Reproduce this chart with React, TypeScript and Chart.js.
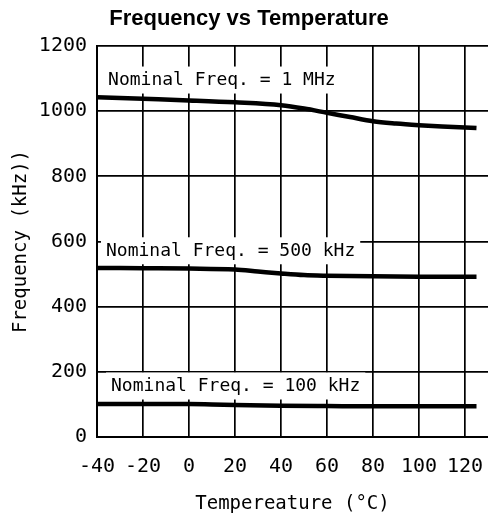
import React, { useEffect, useRef } from 'react';
import { Chart, registerables } from 'chart.js';

Chart.register(...registerables);

// Series: 1 MHz nominal
const temps1MHz = [-40, -20, 0, 20, 40, 50, 60, 70, 80, 90, 100, 110, 125];
const freq1MHz = [1043, 1038, 1033, 1027, 1018, 1008, 995, 982, 969, 962, 957, 953, 948];
// Series: 500 kHz nominal
const temps500k = [-40, -20, 0, 20, 30, 40, 50, 60, 80, 100, 125];
const freq500k = [519, 518, 517, 514, 508, 502, 497, 495, 493, 492, 492];
// Series: 100 kHz nominal
const temps100k = [-40, 0, 10, 20, 40, 60, 90, 125];
const freq100k = [101, 101, 100, 98, 96, 95, 94, 94];

const xTicks = [-40, -20, 0, 20, 40, 60, 80, 100, 120];
const yTicks = [0, 200, 400, 600, 800, 1000, 1200];

const chartTitle = 'Frequency vs Temperature';
const xTitle = 'Tempereature (°C)';
const yTitle = 'Frequency (kHz))';

const labelTexts = ['Nominal Freq. = 1 MHz', 'Nominal Freq. = 500 kHz', 'Nominal Freq. = 100 kHz'];
const labelTemps = [-35.2, -36.1, -33.9];
const labelFreqs = [1094, 570, 155];

const MONO = '"DejaVu Sans Mono", monospace';

const labelPlugin = {
  id: 'curveLabels',
  beforeDatasetsDraw(chart: any) {
    const { ctx, scales } = chart;
    const x = scales.x;
    const y = scales.y;
    ctx.save();
    ctx.font = '18px ' + MONO;
    ctx.textBaseline = 'middle';
    ctx.textAlign = 'left';
    labelTexts.forEach((t, i) => {
      const px = x.getPixelForValue(labelTemps[i]);
      const py = y.getPixelForValue(labelFreqs[i]);
      const w = ctx.measureText(t).width;
      ctx.fillStyle = '#fff';
      ctx.fillRect(px - 5, py - 14, w + 10, 27);
      ctx.fillStyle = '#000';
      ctx.fillText(t, px, py);
    });
    ctx.restore();
  },
  afterDraw(chart: any) {
    const { ctx } = chart;
    ctx.save();
    ctx.font = 'bold 22px "Liberation Sans", Arial, sans-serif';
    ctx.textBaseline = 'middle';
    ctx.textAlign = 'center';
    ctx.fillStyle = '#000';
    ctx.fillText(chartTitle, 249, 19);
    ctx.restore();
  },
};

const toPts = (xs: number[], ys: number[]) => xs.map((t, i) => ({ x: t, y: ys[i] }));

export default function App() {
  const ref = useRef<HTMLCanvasElement | null>(null);
  useEffect(() => {
    if (!ref.current) return;
    const lineStyle = {
      borderColor: '#000',
      backgroundColor: '#000',
      borderWidth: 4.5,
      pointRadius: 0,
      fill: false,
      cubicInterpolationMode: 'monotone' as const,
    };
    const chart = new Chart(ref.current, {
      type: 'line',
      data: {
        datasets: [
          { label: '1 MHz', data: toPts(temps1MHz, freq1MHz), ...lineStyle },
          { label: '500 kHz', data: toPts(temps500k, freq500k), ...lineStyle },
          { label: '100 kHz', data: toPts(temps100k, freq100k), ...lineStyle },
        ],
      },
      options: {
        animation: false,
        responsive: true,
        maintainAspectRatio: false,
        layout: { padding: { top: 46, left: 0, right: 0, bottom: 0 } },
        plugins: {
          legend: { display: false },
          tooltip: { enabled: false },
          title: { display: false },
        },
        scales: {
          x: {
            type: 'linear',
            min: -40,
            max: 130,
            afterBuildTicks: (s: any) => {
              s.ticks = xTicks.map((v) => ({ value: v }));
            },
            afterFit: (s: any) => {
              s.height = 88;
              s.paddingLeft = 0;
              s.paddingRight = 0;
            },
            ticks: {
              stepSize: 20,
              color: '#000',
              font: { family: MONO, size: 20 },
              padding: 18,
              maxRotation: 0,
              autoSkip: false,
              callback: (v: any) => String(v),
            },
            grid: { color: '#000', lineWidth: 1.7, drawTicks: false },
            border: { color: '#000', width: 2 },
            title: {
              display: true,
              text: xTitle,
              color: '#000',
              font: { family: MONO, size: 19, lineHeight: 1.2 },
              padding: { top: 0, bottom: 10 },
            },
          },
          y: {
            type: 'linear',
            min: 0,
            max: 1200,
            afterBuildTicks: (s: any) => {
              s.ticks = yTicks.map((v) => ({ value: v }));
            },
            afterFit: (s: any) => {
              s.width = 97;
            },
            ticks: {
              stepSize: 200,
              color: '#000',
              font: { family: MONO, size: 20 },
              padding: 10,
              callback: (v: any) => String(v),
            },
            grid: { color: '#000', lineWidth: 1.7, drawTicks: false },
            border: { color: '#000', width: 2 },
            title: {
              display: true,
              text: yTitle,
              color: '#000',
              font: { family: MONO, size: 19, lineHeight: 1.2 },
              padding: { top: 10, bottom: 0 },
            },
          },
        },
      },
      plugins: [labelPlugin],
    });
    return () => chart.destroy();
  }, []);
  return (
    <div style={{ position: 'fixed', left: 0, top: 0, width: 488, height: 525, background: '#fff' }}>
      <canvas ref={ref} />
    </div>
  );
}
